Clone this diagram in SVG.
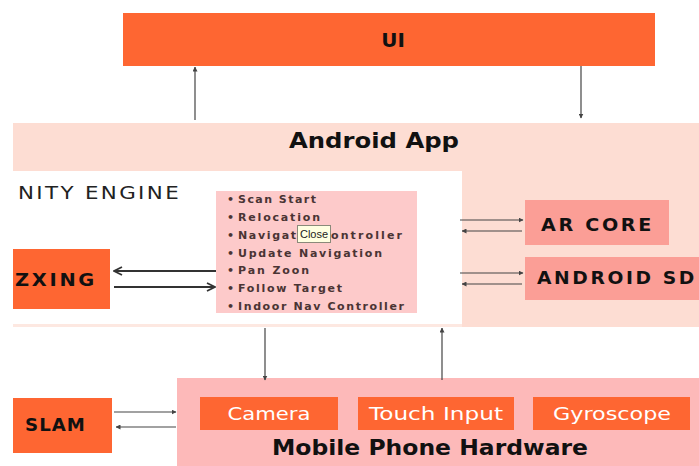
<svg xmlns="http://www.w3.org/2000/svg" width="699" height="466" viewBox="0 0 699 466">
<defs>
<style>
.or{fill:#FE6632}
.b{font-family:"DejaVu Sans","Open Sans",sans-serif;font-weight:700;fill:#111}
.li{font-family:"DejaVu Sans","Open Sans",sans-serif;font-weight:700;font-size:11px;fill:#4a3434}
.w{font-family:"DejaVu Sans","Open Sans",sans-serif;font-size:18px;fill:#fff}
.ln{stroke:#444;stroke-width:1.2;fill:none}
.lz{stroke:#333;stroke-width:1.8;fill:none}
</style>
<marker id="ah" viewBox="0 0 10 10" refX="9" refY="5" markerWidth="5" markerHeight="5" orient="auto-start-reverse" markerUnits="userSpaceOnUse">
<path d="M0,0 L10,5 L0,10 Z" fill="#444"/>
</marker>
<marker id="az" viewBox="0 0 10 10" refX="9" refY="5" markerWidth="10" markerHeight="10" orient="auto-start-reverse" markerUnits="userSpaceOnUse">
<path d="M1,1 L9,5 L1,9" fill="none" stroke="#333" stroke-width="1.8"/>
</marker>
</defs>
<rect width="699" height="466" fill="#fff"/>

<g id="ui">
<rect class="or" x="123" y="13" width="532" height="53"/>
<text class="b" x="393" y="47" font-size="20" text-anchor="middle">UI</text>
</g>

<g id="android-app">
<rect x="13" y="123" width="686" height="204" fill="#FDDDD3"/>
<rect x="13" y="324" width="449" height="3" fill="#FDE8E1"/>
<text class="b" x="374" y="148" font-size="22" text-anchor="middle" textLength="170" lengthAdjust="spacingAndGlyphs">Android App</text>
</g>

<g id="unity-engine">
<rect x="13" y="171" width="449" height="153" fill="#fff"/>
<text x="18" y="199" font-family="DejaVu Sans, Open Sans, sans-serif" font-size="18" letter-spacing="2" fill="#222" textLength="163" lengthAdjust="spacingAndGlyphs">NITY ENGINE</text>
</g>

<g id="unity-list">
<rect x="216" y="191" width="201" height="122" fill="#FDCACA"/>
<g class="li">
<text x="227" y="203">•</text><text x="238" y="203" textLength="78" lengthAdjust="spacing">Scan Start</text>
<text x="227" y="221">•</text><text x="238" y="221" textLength="82" lengthAdjust="spacing">Relocation</text>
<text x="227" y="239">•</text><text x="238" y="239" textLength="58" lengthAdjust="spacing">Navigat</text><text x="331" y="239" textLength="71" lengthAdjust="spacing">ontroller</text>
<text x="227" y="257">•</text><text x="238" y="257" textLength="144" lengthAdjust="spacing">Update Navigation</text>
<text x="227" y="274">•</text><text x="238" y="274" textLength="71" lengthAdjust="spacing">Pan Zoon</text>
<text x="227" y="292">•</text><text x="238" y="292" textLength="104" lengthAdjust="spacing">Follow Target</text>
<text x="227" y="310">•</text><text x="238" y="310" textLength="166" lengthAdjust="spacing">Indoor Nav Controller</text>
</g>
</g>

<g id="tooltip">
<rect x="297.5" y="225.5" width="33" height="17" fill="#FFFFE1" stroke="#8a8a7a" stroke-width="1"/>
<text x="314" y="238" font-family="Liberation Sans, sans-serif" font-size="11" fill="#222" text-anchor="middle">Close</text>
</g>

<g id="zxing">
<rect class="or" x="13" y="249" width="97" height="60"/>
<text class="b" x="15" y="286" font-size="18" letter-spacing="2.5" textLength="82" lengthAdjust="spacingAndGlyphs">ZXING</text>
</g>

<g id="ar-core">
<rect x="525" y="200" width="144" height="45" fill="#FB9E96"/>
<text class="b" x="541" y="231" font-size="18" letter-spacing="2.5" textLength="113" lengthAdjust="spacingAndGlyphs">AR CORE</text>
</g>

<g id="android-sdk">
<rect x="525" y="257" width="174" height="43" fill="#FB9E96"/>
<text class="b" x="537" y="284" font-size="18" letter-spacing="2.5" textLength="160" lengthAdjust="spacingAndGlyphs">ANDROID SD</text>
</g>

<g id="mobile-hardware">
<rect x="177" y="378" width="522" height="88" fill="#FDB9B9"/>
<text class="b" x="430" y="455" font-size="21" text-anchor="middle" textLength="316" lengthAdjust="spacingAndGlyphs">Mobile Phone Hardware</text>
</g>

<g id="camera">
<rect class="or" x="200" y="397" width="138" height="33"/>
<text class="w" x="269" y="420" text-anchor="middle" textLength="83" lengthAdjust="spacingAndGlyphs">Camera</text>
</g>
<g id="touch-input">
<rect class="or" x="358" y="397" width="156" height="33"/>
<text class="w" x="436" y="420" text-anchor="middle" textLength="134" lengthAdjust="spacingAndGlyphs">Touch Input</text>
</g>
<g id="gyroscope">
<rect class="or" x="533" y="397" width="157" height="33"/>
<text class="w" x="612" y="420" text-anchor="middle" textLength="118" lengthAdjust="spacingAndGlyphs">Gyroscope</text>
</g>

<g id="slam">
<rect class="or" x="13" y="398" width="99" height="55"/>
<text class="b" x="25" y="431" font-size="17" letter-spacing="1" textLength="61" lengthAdjust="spacingAndGlyphs">SLAM</text>
</g>

<g id="connectors">
<line class="ln" x1="195" y1="120" x2="195" y2="67" marker-end="url(#ah)"/>
<line class="ln" x1="581" y1="66" x2="581" y2="118" marker-end="url(#ah)"/>
<line class="lz" x1="216" y1="271" x2="114" y2="271" marker-end="url(#az)"/>
<line class="lz" x1="114" y1="287" x2="215" y2="287" marker-end="url(#az)"/>
<line class="ln" x1="460" y1="220" x2="523" y2="220" marker-end="url(#ah)"/>
<line class="ln" x1="522" y1="231" x2="462" y2="231" marker-end="url(#ah)"/>
<line class="ln" x1="460" y1="273" x2="523" y2="273" marker-end="url(#ah)"/>
<line class="ln" x1="522" y1="284" x2="462" y2="284" marker-end="url(#ah)"/>
<line class="ln" x1="265" y1="328" x2="265" y2="380" marker-end="url(#ah)"/>
<line class="ln" x1="442" y1="380" x2="442" y2="328" marker-end="url(#ah)"/>
<line class="ln" x1="114" y1="412" x2="176" y2="412" marker-end="url(#ah)"/>
<line class="ln" x1="176" y1="427" x2="116" y2="427" marker-end="url(#ah)"/>
</g>
</svg>
